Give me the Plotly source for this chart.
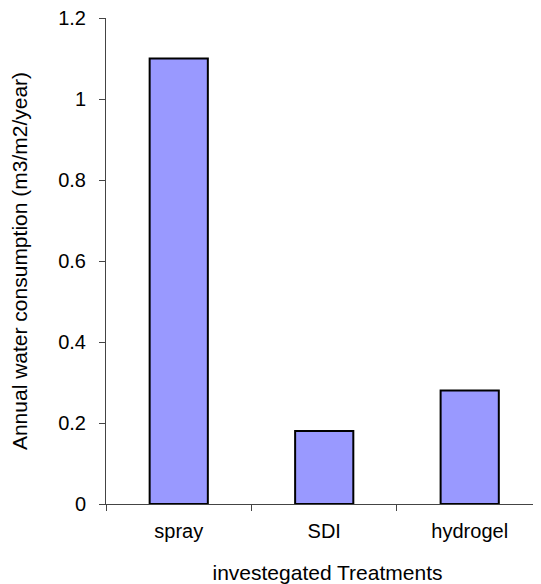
import plotly.graph_objects as go

treatments = ['spray', 'SDI', 'hydrogel']
consumption = [1.1, 0.18, 0.28]

fig = go.Figure()
fig.add_trace(go.Bar(
    x=treatments, y=consumption, width=0.4,
    marker=dict(color='#9999FF', line=dict(color='black', width=2)),
))

family = 'Liberation Sans, Arial, sans-serif'
fig.update_layout(
    width=541, height=584,
    margin=dict(l=98, r=0, t=10, b=88),
    plot_bgcolor='white', paper_bgcolor='white',
    font=dict(family=family, size=20, color='black'), showlegend=False,
)
fig.update_xaxes(
    range=[-0.5, 2.545], showline=True, linecolor='#444', linewidth=1,
    ticks='outside', tickson='boundaries', ticklen=6, tickcolor='#444',
    tickfont=dict(family=family, size=20), ticklabelstandoff=9,
    showgrid=False,
    title=dict(text='investegated Treatments', font=dict(family=family, size=21), standoff=24),
)
fig.update_yaxes(
    range=[0, 1.2], dtick=0.2, showline=True, linecolor='#444', linewidth=1,
    ticks='outside', ticklen=6, tickcolor='#444', showgrid=False, zeroline=False,
    tickfont=dict(family=family, size=20), ticklabelstandoff=9, ticklabeloverflow='allow',
    title=dict(text='Annual water consumption (m3/m2/year)', font=dict(family=family, size=21), standoff=24),
)

fig.write_html("out.html")
